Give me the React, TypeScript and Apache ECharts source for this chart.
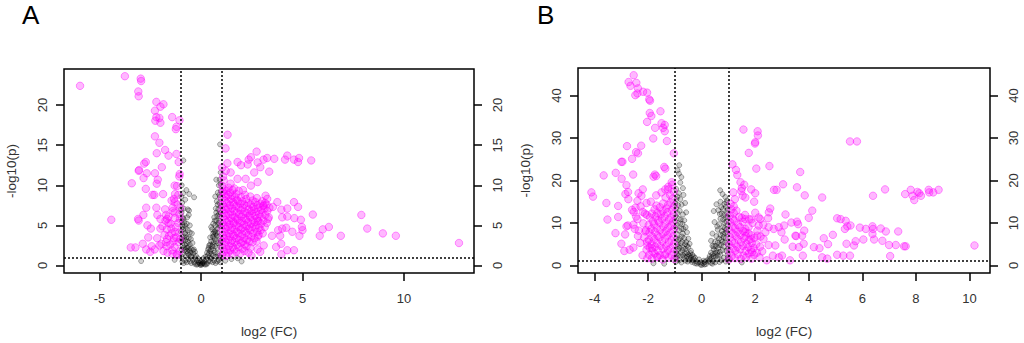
import React, { useEffect, useRef } from "react";
import * as echarts from "echarts";

// ---------- Panel A ----------
const aXTicks = [-5, 0, 5, 10];
const aYTicks = [0, 5, 10, 15, 20];

const aNotSig: number[][] = [
  [-0.05,0.1],[0.04,0.15],[0.1,0.3],[-0.12,0.35],[0.18,0.5],[-0.2,0.6],[0.25,0.8],[-0.28,0.9],[0.0,0.05],[0.07,0.45],[-0.08,0.6],[0.15,0.2],[-0.16,0.15],[0.3,0.3],[-0.33,0.4],[0.38,0.6],[-0.4,0.7],[0.45,0.5],[-0.48,0.3],[0.5,0.9],[-0.55,0.5],[0.58,0.4],[-0.62,0.8],[0.65,0.6],[-0.7,0.4],[0.72,0.3],[-0.78,0.6],[0.8,0.5],[-0.85,0.3],[0.88,0.7],[-0.92,0.5],[0.95,0.4],[0.22,1.1],[-0.25,1.2],[0.35,1.3],[-0.38,1.5],[0.42,1.0],[-0.45,1.1],[0.52,1.4],[-0.52,1.6],[0.6,1.2],[-0.6,1.3],[0.68,1.6],[-0.68,1.8],[0.75,1.1],[-0.75,1.2],[0.82,1.5],[-0.82,1.9],[0.9,1.2],[-0.9,1.4],[0.97,1.0],[-0.97,1.1],
  [-0.5,2.1],[-0.55,2.6],[-0.62,2.3],[-0.65,3.0],[-0.7,2.7],[-0.72,3.5],[-0.78,3.1],[-0.8,4.0],[-0.85,3.6],[-0.88,4.5],[-0.9,2.5],[-0.93,5.1],[-0.95,3.3],[-0.98,4.2],[-0.75,4.6],[-0.82,5.4],[-0.9,6.0],[-0.96,6.6],[-0.7,5.2],[-0.85,7.1],[-0.93,7.8],[-0.78,8.2],[-0.88,9.0],[-0.65,7.0],[-0.6,6.3],[-0.58,8.9],[-0.45,4.0],[-0.42,2.8],[-0.35,2.0],[-0.3,1.7],[-0.97,8.6],[-0.72,9.4],[-0.95,10.0],[-0.55,5.0],[-0.87,13.1],[-0.34,8.5],[-0.59,6.85],
  [-0.4,1.9],[-0.5,1.2],[-0.58,1.9],[-0.65,1.5],[-0.68,2.2],[-0.75,2.0],[-0.8,2.6],[-0.85,2.2],[-0.9,3.2],[-0.95,2.0],[-0.98,3.0],[-0.6,3.4],[-0.65,4.4],[-0.75,3.8],[-0.8,5.0],[-0.86,5.8],[-0.9,4.8],[-0.95,5.6],[-0.98,7.0],[-0.68,6.0],[-0.5,3.3],[-0.55,4.1],
  [0.35,2.0],[0.4,2.5],[0.45,1.8],[0.5,3.0],[0.55,2.4],[0.58,3.6],[0.62,2.9],[0.65,4.2],[0.68,3.3],[0.7,5.0],[0.72,4.0],[0.75,5.6],[0.78,3.7],[0.8,6.2],[0.82,4.6],[0.85,7.0],[0.87,5.3],[0.9,7.8],[0.92,6.1],[0.94,8.5],[0.96,4.9],[0.98,9.3],[0.6,5.2],[0.55,4.5],[0.65,6.0],[0.73,7.1],[0.78,8.0],[0.83,9.1],[0.88,10.0],[0.92,10.7],[0.97,11.6],[0.45,3.5],[0.5,4.8],[0.7,8.6],[0.94,15.1],[0.75,10.7],[0.99,2.2],[0.97,3.1],
  [0.3,1.6],[0.38,2.2],[0.45,2.6],[0.5,2.0],[0.58,2.6],[0.62,1.9],[0.7,2.4],[0.75,3.0],[0.8,2.2],[0.85,2.8],[0.9,3.6],[0.95,2.8],[0.62,3.6],[0.7,4.3],[0.8,4.1],[0.85,5.0],[0.9,5.6],[0.95,6.6],[0.97,7.4],[0.88,6.4],[0.6,4.0],[0.68,5.6],[0.75,6.6],[0.82,7.6],[0.9,8.8],[0.96,10.2],[0.4,1.5],
  [-0.15,0.9],[0.12,0.9],[0.0,0.5],[-0.05,0.3],[0.05,0.25],[-0.3,0.2],[0.28,0.15],[-0.22,0.1],[0.2,0.1],
  [1.2,0.6],[1.5,0.8],[-1.3,0.7],[-2.95,0.55],[1.8,0.9],[2.0,0.5]
];

const aDown: number[][] = [
  [-5.96,22.4],[-3.75,23.6],[-2.97,23.3],[-2.95,23.0],[-3.09,21.7],[-3.07,21.1],[-2.2,20.4],[-1.85,20.1],[-2.0,19.8],[-2.27,19.3],[-2.2,18.5],[-2.05,18.4],[-2.25,18.05],[-2.0,17.8],[-1.42,18.5],[-1.06,18.1],[-1.21,17.3],[-1.24,17.0],[-2.27,16.1],[-2.05,15.3],[-1.77,14.4],[-2.18,14.0],[-1.6,13.7],[-1.21,13.9],[-2.72,12.9],[-2.8,12.7],[-1.93,12.25],[-3.07,11.8],[-3.05,11.9],[-2.67,11.5],[-2.27,11.5],[-2.83,10.9],[-1.05,11.4],[-3.41,10.25],[-2.13,10.7],[-2.18,10.2],[-1.3,9.96],[-2.72,9.55],[-2.39,8.8],[-2.3,8.8],[-1.87,8.9],[-1.28,8.9],[-1.45,8.1],[-1.33,8.3],[-2.7,7.2],[-2.2,7.2],[-1.77,7.0],[-1.4,7.2],[-2.84,6.3],[-2.15,6.3],[-1.72,6.3],[-1.3,6.6],[-4.42,5.7],[-3.1,5.8],[-3.07,5.6],[-2.0,5.8],[-1.67,5.8],[-1.6,5.3],[-2.64,5.0],[-2.47,4.6],[-2.0,4.6],[-1.46,4.6],[-1.28,4.2],[-2.6,3.5],[-2.16,3.4],[-1.67,3.3],[-1.33,3.4],[-2.87,2.7],[-2.43,2.4],[-2.05,2.5],[-1.7,2.4],[-3.46,2.25],[-3.23,2.25],[-2.7,2.0],[-2.5,1.7],[-2.28,2.0],[-1.4,1.46],[-1.17,1.3],
  [-1.05,1.8],[-1.1,2.9],[-1.08,4.1],[-1.12,5.3],[-1.06,6.4],[-1.15,7.6],[-1.2,1.4],[-1.22,3.5],[-1.25,4.8],[-1.3,2.3],[-1.28,5.9],[-1.35,3.0],[-1.38,6.8],[-1.42,1.9],[-1.45,4.0],[-1.5,5.2],[-1.52,2.6],[-1.58,3.7],[-1.6,6.1],[-1.65,1.6],[-1.68,4.5],[-1.72,2.9],[-1.75,5.6],[-1.8,3.8],[-1.85,1.8],[-1.9,4.9],[-1.95,2.7],[-1.12,8.8],[-1.18,9.9],[-1.07,11.1],[-1.1,12.9],[-1.3,7.9],[-1.03,3.3],[-1.04,5.8],[-1.02,7.2]
];

const aUp: number[][] = [
  [1.31,16.3],[1.21,14.6],[2.74,14.2],[2.46,13.5],[2.35,13.2],[3.08,13.2],[3.26,13.4],[3.61,13.3],[4.25,13.7],[4.14,13.2],[4.58,13.2],[4.83,13.4],[4.78,12.9],[5.43,13.1],[1.3,12.75],[1.8,12.9],[1.97,12.5],[2.3,12.6],[2.79,12.85],[2.92,12.25],[3.36,11.7],[2.62,11.6],[1.46,11.6],[1.8,10.8],[2.2,10.8],[2.79,10.4],[2.46,9.96],[1.46,10.2],
  [3.18,8.7],[3.26,8.3],[3.76,7.9],[4.58,7.9],[4.78,7.3],[4.25,7.1],[3.96,6.95],[3.54,7.3],[3.08,7.5],[5.51,6.35],[4.6,5.9],[4.92,5.7],[4.25,6.1],[3.3,5.8],[4.0,6.0],[2.8,5.6],[7.9,6.3],[6.3,4.8],[6.0,4.5],[5.85,3.7],[6.89,3.7],[8.19,4.6],[8.96,4.0],[9.6,3.7],[12.71,2.8],[4.97,4.8],[5.0,4.4],[4.85,3.7],[4.5,4.2],[4.2,4.7],[4.0,4.6],[3.8,4.4],[3.9,3.7],[3.5,3.7],[3.7,2.3],[3.95,2.7],[4.25,1.9],[4.58,1.9],[3.96,1.4],[2.49,1.2],[2.79,2.0],[2.92,1.7],[3.09,2.5],[2.8,3.6],
  [1.03,1.3],[1.06,2.2],[1.04,3.0],[1.07,3.8],[1.02,4.5],[1.05,5.3],[1.08,6.1],[1.03,6.9],[1.06,7.6],[1.04,8.4],[1.07,9.2],[1.05,9.9],[1.09,11.1],[1.04,12.2],
  [1.14,1.7],[1.17,2.6],[1.13,3.4],[1.16,4.2],[1.12,5.0],[1.18,5.7],[1.15,6.5],[1.13,7.3],[1.17,8.1],[1.14,8.9],[1.16,9.5],[1.12,10.6],
  [1.24,1.2],[1.27,2.0],[1.23,2.9],[1.26,3.7],[1.22,4.6],[1.28,5.4],[1.25,6.2],[1.23,7.0],[1.27,7.8],[1.24,8.6],[1.26,9.3],[1.22,11.8],
  [1.34,1.6],[1.37,2.4],[1.33,3.2],[1.36,4.0],[1.32,4.8],[1.38,5.6],[1.35,6.4],[1.33,7.1],[1.37,8.0],[1.34,8.8],[1.36,9.7],
  [1.44,1.9],[1.47,2.8],[1.43,3.6],[1.46,4.4],[1.42,5.1],[1.48,5.9],[1.45,6.7],[1.43,7.5],[1.47,8.3],[1.44,9.1],
  [1.54,1.4],[1.57,2.3],[1.53,3.1],[1.56,3.9],[1.52,4.7],[1.58,5.5],[1.55,6.3],[1.53,7.1],[1.57,7.9],[1.54,8.7],[1.56,9.4],
  [1.64,2.0],[1.67,2.9],[1.63,3.7],[1.66,4.5],[1.62,5.3],[1.68,6.0],[1.65,6.8],[1.63,7.6],[1.67,8.5],[1.64,9.6],
  [1.74,1.7],[1.77,2.6],[1.73,3.4],[1.76,4.2],[1.72,5.0],[1.78,5.8],[1.75,6.6],[1.73,7.4],[1.77,8.2],[1.74,8.9],
  [1.84,2.3],[1.87,3.2],[1.83,4.0],[1.86,4.8],[1.82,5.6],[1.88,6.4],[1.85,7.2],[1.83,8.0],[1.86,9.3],
  [1.94,1.5],[1.97,2.8],[1.93,3.6],[1.96,4.5],[1.92,5.3],[1.98,6.1],[1.95,6.9],[1.93,7.7],[1.97,8.5],
  [2.04,2.1],[2.07,3.0],[2.03,3.9],[2.06,4.7],[2.02,5.5],[2.08,6.4],[2.05,7.2],[2.03,8.0],[2.07,9.4],
  [2.14,1.8],[2.17,2.6],[2.13,3.4],[2.16,4.3],[2.12,5.1],[2.18,5.9],[2.15,6.7],[2.13,7.6],[2.17,8.8],
  [2.24,2.4],[2.27,3.2],[2.23,4.1],[2.26,4.9],[2.22,5.7],[2.28,6.5],[2.25,7.4],[2.23,8.3],
  [2.34,1.6],[2.37,3.0],[2.33,3.8],[2.36,4.6],[2.32,5.4],[2.38,6.2],[2.35,7.0],[2.33,7.8],
  [2.44,2.2],[2.47,3.6],[2.43,4.4],[2.46,5.2],[2.42,6.0],[2.48,6.8],[2.45,7.6],[2.43,8.6],
  [2.54,2.9],[2.57,4.0],[2.53,4.8],[2.56,5.6],[2.52,6.5],[2.58,7.3],[2.55,8.1],
  [2.64,3.4],[2.67,4.6],[2.63,5.4],[2.66,6.2],[2.62,7.0],[2.68,7.9],
  [2.74,3.0],[2.77,4.2],[2.73,5.0],[2.76,5.9],[2.72,6.7],[2.78,7.5],[2.75,8.4],
  [2.84,3.8],[2.87,4.7],[2.83,5.5],[2.86,6.4],[2.82,7.2],
  [2.94,4.4],[2.97,5.2],[2.93,6.1],[2.96,6.9],[2.92,7.7],
  [3.04,4.0],[3.07,5.6],[3.03,6.6],[3.06,7.4],[3.02,8.0],
  [3.14,4.8],[3.17,6.3],[3.13,7.1],[3.16,7.8],
  [3.24,5.3],[3.27,6.8],[3.23,7.6],
  [3.34,6.0],[3.37,7.2]
];

// ---------- Panel B ----------
const bXTicks = [-4, -2, 0, 2, 4, 6, 8, 10];
const bYTicks = [0, 10, 20, 30, 40];

const bNotSig: number[][] = [
  [-0.05,0.2],[0.05,0.4],[0.12,0.8],[-0.14,0.7],[0.2,1.2],[-0.22,1.0],[0.28,1.6],[-0.3,1.5],[0.0,0.1],[0.08,1.1],[-0.1,1.4],[0.16,0.3],[-0.18,0.4],[0.35,0.6],[-0.36,0.8],[0.42,1.0],[-0.44,1.3],[0.5,0.7],[-0.52,0.9],[0.58,1.5],[-0.6,1.1],[0.66,0.8],[-0.68,1.6],[0.74,1.2],[-0.76,0.7],[0.82,1.8],[-0.84,1.2],[0.9,0.9],[-0.92,1.9],[0.97,1.3],[-0.97,0.8],
  [-0.35,2.5],[-0.4,3.4],[-0.45,2.2],[-0.5,4.3],[-0.55,3.0],[-0.58,5.5],[-0.62,2.8],[-0.65,6.4],[-0.68,4.1],[-0.7,7.5],[-0.72,3.6],[-0.75,8.6],[-0.78,5.2],[-0.8,9.8],[-0.82,6.3],[-0.85,11.0],[-0.88,4.5],[-0.9,12.3],[-0.92,7.4],[-0.95,13.5],[-0.97,8.9],[-0.99,10.4],[-0.6,9.0],[-0.55,7.8],[-0.65,10.6],[-0.7,12.0],[-0.75,14.3],[-0.8,15.6],[-0.85,17.0],[-0.9,16.2],[-0.95,18.0],[-0.5,6.3],[-0.45,5.1],[-0.58,12.5],[-0.62,14.7],[-0.68,16.6],[-0.8,19.5],[-0.85,21.6],[-0.84,23.6],[-0.9,22.4],[-0.76,20.8],[-0.7,18.2],[-0.96,3.2],[-0.92,2.6],[-0.88,3.8],[-0.3,2.1],[-0.25,1.8],
  [-0.35,1.2],[-0.4,1.9],[-0.48,1.6],[-0.55,2.1],[-0.6,3.9],[-0.65,2.0],[-0.7,2.4],[-0.72,5.5],[-0.78,3.0],[-0.82,4.2],[-0.85,2.4],[-0.88,6.0],[-0.9,5.0],[-0.92,9.5],[-0.95,6.3],[-0.97,11.6],[-0.99,14.6],[-0.62,5.0],[-0.68,8.6],[-0.72,9.8],[-0.78,10.8],[-0.82,12.9],[-0.85,8.2],[-0.88,14.2],[-0.94,15.6],[-0.55,4.6],[-0.5,2.6],[-0.42,2.9],[-0.98,1.8],[-0.74,6.8],
  [0.3,2.2],[0.35,3.0],[0.4,2.6],[0.45,3.8],[0.5,2.9],[0.52,4.6],[0.55,3.5],[0.6,5.4],[0.62,4.1],[0.65,6.3],[0.68,3.2],[0.7,7.2],[0.72,4.8],[0.75,8.1],[0.78,5.6],[0.8,9.0],[0.82,6.7],[0.85,10.1],[0.88,7.6],[0.9,11.3],[0.92,8.5],[0.95,12.4],[0.97,5.0],[0.98,9.6],[0.55,6.9],[0.6,8.4],[0.65,9.7],[0.7,11.0],[0.75,12.2],[0.8,13.3],[0.85,14.5],[0.9,13.8],[0.62,13.0],[0.55,14.4],[0.45,12.8],[0.7,15.0],[0.78,16.8],[0.69,17.7],[0.88,16.1],[0.95,15.3],[0.48,10.2],[0.4,7.5],[0.35,5.8],[0.97,2.6],[0.92,3.4],
  [0.32,1.4],[0.38,1.9],[0.45,2.2],[0.52,2.1],[0.58,3.0],[0.6,2.3],[0.65,4.8],[0.7,2.5],[0.73,6.0],[0.78,3.6],[0.8,7.4],[0.83,4.4],[0.86,8.8],[0.88,5.5],[0.9,6.4],[0.92,10.3],[0.95,7.8],[0.97,11.5],[0.99,4.0],[0.5,5.6],[0.45,4.5],[0.58,9.2],[0.68,12.1],[0.73,13.7],[0.8,10.8],[0.85,12.0],[0.92,14.8],[0.97,13.2],[0.4,4.6],[0.98,1.9],
  [0.25,0.9],[-0.25,0.5],[0.1,0.2],[-0.05,0.7],[0.4,0.4],
  [-1.8,0.5],[1.5,0.7],[-1.4,0.4]
];

const bDown: number[][] = [
  [-2.54,44.8],[-2.73,43.2],[-2.44,43.0],[-2.66,42.3],[-2.38,41.7],[-2.4,40.5],[-2.19,40.9],[-2.04,40.7],[-2.48,40.1],[-1.96,39.1],[-1.93,38.8],[-1.94,35.9],[-1.88,35.2],[-1.54,36.3],[-2.04,33.8],[-1.5,33.5],[-1.38,33.1],[-1.44,32.4],[-1.74,32.4],[-1.38,31.6],[-1.81,29.9],[-1.3,29.3],[-2.79,28.1],[-2.26,28.2],[-2.45,26.7],[-2.38,26.4],[-1.04,26.4],[-2.6,25.1],[-2.96,24.4],[-3.0,24.4],[-1.4,23.2],[-1.36,22.8],[-3.21,21.8],[-2.56,21.4],[-3.66,21.2],[-1.75,21.4],[-1.8,20.9],[-1.7,21.05],[-2.99,20.4],[-1.12,19.6],[-2.81,18.9],[-1.25,17.9],[-2.2,17.9],[-1.36,17.9],[-2.75,17.3],[-4.12,17.2],[-4.06,16.2],[-2.36,17.0],[-2.85,16.8],[-2.74,15.6],[-3.56,14.7],[-2.06,14.7],[-3.12,14.0],[-2.47,13.6],[-2.54,12.6],[-2.12,12.2],[-3.12,11.4],[-3.52,10.8],[-2.4,10.9],[-2.76,9.4],[-2.81,9.2],[-3.22,7.6],[-2.86,7.3],[-2.38,6.9],[-2.1,8.0],[-2.5,8.6],[-3.0,5.1],[-2.55,4.2],[-2.89,3.4],[-2.69,3.7],[-2.03,4.7],[-1.85,4.05],[-2.21,2.4],[-2.03,1.7],[-1.65,2.1],[-1.38,2.5],
  [-1.02,1.5],[-1.05,3.2],[-1.03,5.0],[-1.06,6.8],[-1.04,8.5],[-1.07,10.3],[-1.05,12.1],[-1.03,13.9],[-1.08,15.7],[-1.04,17.4],[-1.12,2.3],[-1.15,4.1],[-1.13,5.9],[-1.16,7.7],[-1.14,9.4],[-1.17,11.2],[-1.12,13.0],[-1.15,14.8],[-1.18,16.6],[-1.24,1.8],[-1.26,3.6],[-1.23,5.4],[-1.27,7.1],[-1.25,8.9],[-1.22,10.7],[-1.28,12.5],[-1.26,14.2],[-1.35,2.7],[-1.33,4.5],[-1.37,6.3],[-1.34,8.0],[-1.36,9.8],[-1.38,11.6],[-1.32,13.4],[-1.35,16.0],[-1.46,1.4],[-1.44,3.9],[-1.47,5.7],[-1.45,7.5],[-1.43,9.2],[-1.48,11.0],[-1.46,12.8],[-1.44,14.6],[-1.56,2.4],[-1.54,4.6],[-1.57,6.6],[-1.55,8.4],[-1.58,10.1],[-1.53,12.0],[-1.56,13.7],[-1.66,1.9],[-1.64,3.5],[-1.67,5.2],[-1.65,7.0],[-1.68,8.8],[-1.63,10.6],[-1.66,12.3],[-1.69,14.1],[-1.76,2.8],[-1.74,4.4],[-1.77,6.1],[-1.75,7.9],[-1.78,9.7],[-1.73,11.5],[-1.76,13.2],[-1.86,1.6],[-1.84,3.3],[-1.87,5.0],[-1.85,6.8],[-1.88,8.6],[-1.83,10.4],[-1.86,12.2],[-1.96,2.5],[-1.94,4.2],[-1.97,6.0],[-1.95,7.8],[-1.98,9.5],[-1.93,11.3],[-2.06,3.7],[-2.04,5.6],[-2.08,8.3],[-2.05,11.9],[-2.15,6.6],[-2.18,9.9],[-2.2,12.6],[-2.3,5.3],[-2.35,8.2],[-2.28,13.9],[-2.45,11.5],[-2.4,15.2],[-2.55,9.6],[-2.6,13.1],[-2.25,16.4],[-1.9,15.0],[-1.7,16.5],[-1.5,17.2],[-1.25,18.5],[-1.1,19.0]
];

const bUp: number[][] = [
  [1.56,32.0],[2.09,31.6],[2.1,30.6],[2.0,29.0],[1.99,28.7],[1.76,26.5],[1.15,23.8],[1.28,22.5],[1.33,21.3],[2.04,22.8],[2.53,23.4],[1.45,19.6],[1.59,19.0],[1.5,18.2],[1.48,17.5],[1.85,17.9],[2.0,17.0],[1.53,16.4],[1.63,16.0],[1.96,15.0],[1.18,17.2],[1.24,15.6],[1.2,13.9],[2.7,17.8],[2.8,17.8],[3.04,19.1],[3.56,18.4],[3.68,22.0],[3.85,16.5],[4.5,16.0],[2.56,13.4],[2.51,12.5],[2.48,11.1],[3.13,12.0],[4.13,12.9],[4.0,11.2],
  [5.54,29.2],[5.8,29.2],[6.4,16.4],[6.85,17.9],[7.6,16.8],[7.81,17.8],[7.88,16.4],[7.94,15.4],[8.06,17.3],[8.13,17.0],[8.19,16.4],[8.48,17.8],[8.5,17.2],[8.65,17.2],[8.85,17.8],[10.19,4.7],
  [5.06,11.1],[5.19,10.9],[5.38,10.5],[5.56,9.4],[5.35,8.6],[5.44,9.2],[5.91,8.9],[6.13,8.6],[6.38,9.2],[6.4,8.6],[6.69,8.7],[6.88,8.0],[7.34,8.0],[6.38,7.4],[6.44,6.1],[6.75,5.8],[6.04,6.1],[5.75,5.7],[5.69,4.7],[5.41,5.1],[4.9,7.2],[4.56,6.4],[4.72,5.0],[4.4,4.05],[4.19,4.3],[7.0,4.8],[7.25,4.8],[7.56,4.5],[7.62,4.5],[7.04,2.2],[5.06,2.5],[5.29,2.3],[5.54,2.3],[4.5,1.9],[4.69,1.6],
  [3.83,8.2],[3.75,7.0],[3.53,6.9],[3.5,7.0],[3.4,4.4],[3.63,4.3],[3.81,5.1],[3.78,2.3],[3.3,1.2],[2.88,1.9],[3.0,2.3],[2.66,2.3],[2.43,1.2],[3.35,10.1],[3.56,10.3],[3.6,9.7],[3.08,9.4],[2.88,9.0],[2.69,8.6],[2.5,9.0],[2.98,7.8],[3.1,6.1],[2.75,4.7],[2.5,4.8],[2.31,6.2],[2.38,7.8],[2.13,9.4],[2.08,7.0],[1.83,6.2],[1.88,3.1],[2.13,11.3],[2.19,10.9],[1.78,10.9],[1.85,10.8],[1.63,10.9],[1.5,11.2],[1.75,9.0],[1.63,7.8],
  [1.02,1.4],[1.05,3.1],[1.03,4.9],[1.06,6.6],[1.04,8.3],[1.07,10.1],[1.05,11.8],[1.12,2.2],[1.15,4.0],[1.13,5.7],[1.16,7.5],[1.14,9.2],[1.17,11.0],[1.24,1.7],[1.26,3.5],[1.23,5.2],[1.27,7.0],[1.25,8.7],[1.22,10.5],[1.35,2.6],[1.33,4.4],[1.37,6.1],[1.34,7.9],[1.36,9.6],[1.46,1.5],[1.44,3.8],[1.47,5.5],[1.45,7.2],[1.43,9.0],[1.56,2.3],[1.54,4.6],[1.57,6.4],[1.55,8.1],[1.53,10.3],[1.66,1.9],[1.64,3.4],[1.67,5.1],[1.65,6.9],[1.63,8.6],[1.76,2.8],[1.74,4.3],[1.77,6.0],[1.75,7.6],[1.86,1.6],[1.84,3.6],[1.87,5.3],[1.85,7.1],[1.96,2.5],[1.94,4.1],[1.97,6.5],[2.06,3.0],[2.04,5.0],[2.08,8.2],[2.16,1.9],[2.18,4.4],[2.2,6.8],[2.26,3.3],[2.3,9.6],[1.11,13.2],[1.08,14.5],[1.2,12.3],[1.3,12.9],[1.4,11.4],[1.62,11.9],[1.9,10.0],[2.0,12.4]
];

const FC_CUT = [-1, 1];
const P_CUT = 1;

const FONT = "Liberation Sans, Arial, sans-serif";
const LABEL_COLOR = "#333";

export default function App() {
  const ref = useRef<HTMLDivElement>(null);

  useEffect(() => {
    if (!ref.current) return;
    const chart = echarts.init(ref.current, undefined, { renderer: "svg" });

    const magenta = {
      color: "rgba(255,0,255,0.35)",
      borderColor: "rgba(255,0,255,0.5)",
      borderWidth: 1,
    };
    const gray = {
      color: "rgba(0,0,0,0.22)",
      borderColor: "rgba(0,0,0,0.4)",
      borderWidth: 1,
    };
    const cutLines = {
      silent: true,
      symbol: ["none", "none"],
      label: { show: false },
      lineStyle: { color: "#000", type: [2, 2], width: 1.5 },
      emphasis: { disabled: true },
      data: [{ xAxis: FC_CUT[0] }, { xAxis: FC_CUT[1] }, { yAxis: P_CUT }],
      z: 10,
    };

    const xAxisBase = (gridIndex: number, min: number, max: number, ticks: number[]) => ({
      gridIndex,
      type: "value",
      min,
      max,
      splitLine: { show: false },
      axisLine: { show: false, onZero: false },
      axisTick: {
        show: true,
        inside: false,
        length: 8,
        customValues: ticks,
        lineStyle: { color: "#000", width: 1.5 },
      },
      axisLabel: {
        customValues: ticks,
        margin: 19,
        fontSize: 13,
        color: LABEL_COLOR,
        fontFamily: FONT,
      },
      name: "log2 (FC)",
      nameLocation: "middle",
      nameGap: 51,
      nameTextStyle: { fontSize: 13.5, color: LABEL_COLOR, fontFamily: FONT },
    });

    const yAxisBase = (
      gridIndex: number,
      min: number,
      max: number,
      ticks: number[],
      position: "left" | "right"
    ) => ({
      gridIndex,
      type: "value",
      position,
      min,
      max,
      splitLine: { show: false },
      axisLine: { show: false, onZero: false },
      axisTick: {
        show: true,
        inside: false,
        length: 8,
        customValues: ticks,
        lineStyle: { color: "#000", width: 1.5 },
      },
      axisLabel: {
        customValues: ticks,
        rotate: 90,
        margin: position === "left" ? 15 : 17,
        fontSize: 13,
        color: LABEL_COLOR,
        fontFamily: FONT,
      },
      ...(position === "left"
        ? {
            name: "-log10(p)",
            nameLocation: "middle",
            nameRotate: 90,
            nameGap: 46,
            nameTextStyle: { fontSize: 13.5, color: LABEL_COLOR, fontFamily: FONT },
          }
        : {}),
    });

    chart.setOption({
      animation: false,
      backgroundColor: "#fff",
      title: [
        {
          text: "A",
          left: 22,
          top: 2,
          padding: 0,
          textStyle: { fontSize: 26, fontWeight: "normal", color: "#000", fontFamily: FONT },
        },
        {
          text: "B",
          left: 537,
          top: 2,
          padding: 0,
          textStyle: { fontSize: 26, fontWeight: "normal", color: "#000", fontFamily: FONT },
        },
      ],
      grid: [
        {
          left: 64,
          top: 69,
          width: 410,
          height: 205,
          show: true,
          borderColor: "#000",
          borderWidth: 1.5,
          backgroundColor: "transparent",
        },
        {
          left: 578,
          top: 68,
          width: 412,
          height: 206,
          show: true,
          borderColor: "#000",
          borderWidth: 1.5,
          backgroundColor: "transparent",
        },
      ],
      xAxis: [
        xAxisBase(0, -6.75, 13.45, aXTicks),
        xAxisBase(1, -4.62, 10.77, bXTicks),
      ],
      yAxis: [
        yAxisBase(0, -0.94, 24.5, aYTicks, "left"),
        yAxisBase(0, -0.94, 24.5, aYTicks, "right"),
        yAxisBase(1, -1.79, 46.5, bYTicks, "left"),
        yAxisBase(1, -1.79, 46.5, bYTicks, "right"),
      ],
      series: [
        { type: "scatter", xAxisIndex: 0, yAxisIndex: 0, data: aNotSig, symbolSize: 5, itemStyle: gray, silent: true },
        { type: "scatter", xAxisIndex: 0, yAxisIndex: 0, data: aDown, symbolSize: 7.5, itemStyle: magenta, silent: true },
        { type: "scatter", xAxisIndex: 0, yAxisIndex: 0, data: aUp, symbolSize: 7.5, itemStyle: magenta, silent: true, markLine: cutLines },
        { type: "scatter", xAxisIndex: 1, yAxisIndex: 2, data: bNotSig, symbolSize: 5, itemStyle: gray, silent: true },
        { type: "scatter", xAxisIndex: 1, yAxisIndex: 2, data: bDown, symbolSize: 7.5, itemStyle: magenta, silent: true },
        { type: "scatter", xAxisIndex: 1, yAxisIndex: 2, data: bUp, symbolSize: 7.5, itemStyle: magenta, silent: true, markLine: cutLines },
      ],
    });

    return () => chart.dispose();
  }, []);

  return (
    <div
      ref={ref}
      style={{ position: "absolute", left: 0, top: 0, width: 1024, height: 343 }}
    />
  );
}
